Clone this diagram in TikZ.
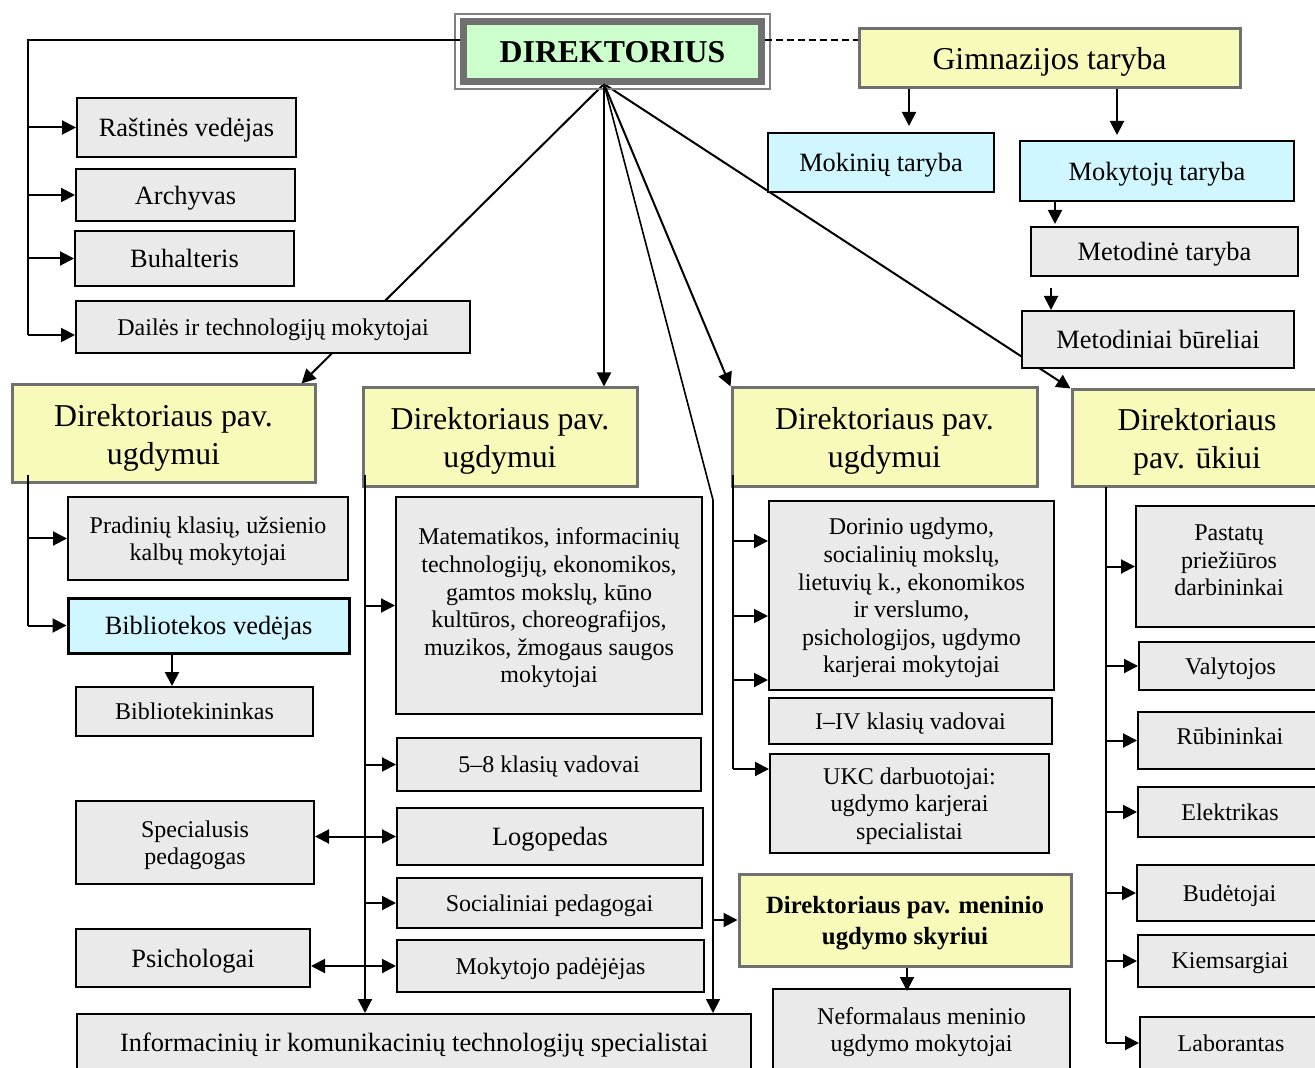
\documentclass[tikz,border=0pt]{standalone}
\usepackage{fontspec}
\setmainfont{Liberation Serif}
\usetikzlibrary{arrows.meta,calc}
\pgfdeclarelayer{bg}
\pgfsetlayers{bg,main}
\definecolor{gfill}{RGB}{234,234,234}
\definecolor{yfill}{RGB}{248,250,186}
\definecolor{cfill}{RGB}{208,246,255}
\definecolor{dgreen}{RGB}{204,255,204}
\definecolor{ybord}{RGB}{112,112,112}
\newcommand\fsS{\fontsize{12}{13.8}\selectfont}
\newcommand\fsM{\fontsize{13.2}{15.5}\selectfont}
\newcommand\fsL{\fontsize{15.9}{19}\selectfont}
\newcommand\fsB{\fontsize{12.4}{15.5}\selectfont\bfseries}
\newcommand\mkbox[7]{%
  \pgfmathsetmacro\bxw{(#4-#2)*0.5}%
  \pgfmathsetmacro\bxh{(#5-#3)*0.5}%
  \node[#6, minimum width=\bxw pt, minimum height=\bxh pt] (#1) at ({(#2+#4)/2},{(#3+#5)/2}) {#7};}
\begin{document}
\begin{tikzpicture}[x=0.5pt,y=-0.5pt,
  base/.style={rectangle, inner sep=0pt, align=center, text=black, text depth=0pt},
  gbox/.style={base, fill=gfill, draw=black, line width=1pt, font=\fsS},
  ybox/.style={base, fill=yfill, draw=ybord, line width=1.5pt, font=\fsL},
  cbox/.style={base, fill=cfill, draw=black, line width=1.2pt, font=\fsM},
  dbox/.style={base, fill=dgreen, draw=ybord, line width=3.5pt, font=\fsL\bfseries},
  ln/.style={draw=black, line width=1pt},
  ar/.style={ln, -{Triangle[length=7pt,width=7pt]}},
  arr/.style={ln, {Triangle[length=7pt,width=7pt]}-{Triangle[length=7pt,width=7pt]}}]
\useasboundingbox (0,0) rectangle (1315,1068);
\begin{pgfonlayer}{bg}
\fill[white] (0,0) rectangle (1315,1068);
\end{pgfonlayer}

% top
\draw[draw=gray, line width=0.8pt] (455,14) rectangle (770,89);
\mkbox{dir}{463.5}{21.5}{761.5}{81.5}{dbox}{DIREKTORIUS}
\mkbox{gim}{859}{29}{1240}{88}{ybox}{Gimnazijos taryba}
\mkbox{mok}{768}{133}{994}{192}{cbox}{Mokinių taryba}
\mkbox{mkt}{1020}{141}{1294}{201}{cbox}{Mokytojų taryba}
\mkbox{met}{1031}{227}{1298}{276}{gbox,font=\fsM}{Metodinė taryba}
\mkbox{mtb}{1022}{311}{1294}{368}{gbox,font=\fsM}{Metodiniai būreliai}

% left top column
\mkbox{ras}{77}{98}{296}{157}{gbox,font=\fsM}{Raštinės vedėjas}
\mkbox{arc}{76}{169}{295}{221}{gbox,font=\fsM}{Archyvas}
\mkbox{buh}{75}{231}{294}{286}{gbox,font=\fsM}{Buhalteris}
\mkbox{dai}{76}{301}{470}{353}{gbox}{Dailės ir technologijų mokytojai}

% deputies
\mkbox{y1}{12}{385}{315}{483}{ybox}{Direktoriaus pav.\\ugdymui}
\mkbox{y2}{363}{388}{637}{487}{ybox}{Direktoriaus pav.\\ugdymui}
\mkbox{y3}{732}{388}{1037}{487}{ybox}{Direktoriaus pav.\\ugdymui}
\mkbox{y4}{1072}{390}{1322}{487}{ybox}{Direktoriaus\\pav. ūkiui}

% group 1
\mkbox{pra}{68}{497}{348}{580}{gbox}{Pradinių klasių, užsienio\\kalbų mokytojai}
\mkbox{bib}{68}{598}{349}{653}{cbox,line width=1.5pt}{Bibliotekos vedėjas}
\mkbox{bbk}{76}{687}{313}{736}{gbox}{Bibliotekininkas}

% group 2
\mkbox{mat}{396}{497}{702}{714}{gbox}{Matematikos, informacinių\\technologijų, ekonomikos,\\gamtos mokslų, kūno\\kultūros, choreografijos,\\muzikos, žmogaus saugos\\mokytojai}
\mkbox{k58}{397}{738}{701}{791}{gbox}{5–8 klasių vadovai}
\mkbox{spe}{76}{801}{314}{884}{gbox}{Specialusis\\pedagogas}
\mkbox{log}{397}{808}{703}{865}{gbox,font=\fsM}{Logopedas}
\mkbox{soc}{397}{878}{702}{928}{gbox}{Socialiniai pedagogai}
\mkbox{psi}{76}{929}{310}{987}{gbox,font=\fsM}{Psichologai}
\mkbox{pad}{397}{940}{704}{992}{gbox}{Mokytojo padėjėjas}
\mkbox{ict}{77}{1014}{751}{1070}{gbox,font=\fsM}{Informacinių ir komunikacinių technologijų specialistai}

% group 3
\mkbox{dor}{769}{501}{1054}{690}{gbox}{Dorinio ugdymo,\\socialinių mokslų,\\lietuvių k., ekonomikos\\ir verslumo,\\psichologijos, ugdymo\\karjerai mokytojai}
\mkbox{k14}{769}{698}{1052}{744}{gbox}{I–IV klasių vadovai}
\mkbox{ukc}{770}{754}{1049}{853}{gbox,text depth=-3pt}{UKC darbuotojai:\\ugdymo karjerai\\specialistai}
\mkbox{men}{739}{874}{1071}{966}{ybox,font=\fsB}{Direktoriaus pav. meninio\\ugdymo skyriui}
\mkbox{nef}{773}{989}{1070}{1070}{gbox}{Neformalaus meninio\\ugdymo mokytojai}

% group 4
\mkbox{pas}{1136}{506}{1322}{627}{gbox,text depth=6pt}{Pastatų\\priežiūros\\darbininkai}
\mkbox{val}{1139}{642}{1322}{690}{gbox}{Valytojos}
\mkbox{rub}{1138}{712}{1322}{769}{gbox,text depth=4pt}{Rūbininkai}
\mkbox{ele}{1138}{787}{1322}{837}{gbox}{Elektrikas}
\mkbox{bud}{1137}{865}{1322}{921}{gbox}{Budėtojai}
\mkbox{kie}{1138}{935}{1322}{987}{gbox}{Kiemsargiai}
\mkbox{lab}{1140}{1017}{1322}{1070}{gbox}{Laborantas}

% connectors: top
\coordinate (lt) at (28,40);
\coordinate (lb) at (28,335);
\draw[ln] (dir.west |- lt) -- (lt) -- (lb);
\draw[ar] (lt |- ras.west) -- (ras.west);
\draw[ar] (lt |- arc.west) -- (arc.west);
\draw[ar] (lt |- buh.west) -- (buh.west);
\draw[ar] (lb) -- (dai.west |- lb);
\draw[ln, dash pattern=on 3.5pt off 2pt, line width=0.8pt] (dir.east |- lt) -- (gim.west |- lt);
\draw[ar] (gim.south -| 909,0) -- (909,126);
\draw[ar] (gim.south -| 1117,0) -- (1117,135);
\draw[ar] (mkt.south -| 1055,0) -- (1055,224);
\draw[ar] ($(met.south -| 1051,0)+(0,11)$) -- (mtb.north -| 1051,0);

% from director
\coordinate (ds) at (604,84);
\coordinate (cb) at (713,500);
\begin{pgfonlayer}{bg}
\draw[ar] (ds) -- ($(y1.north east)+(-15,0)$);
\draw[ar] (ds) -- (y4.north west);
\end{pgfonlayer}
\draw[ar] (ds) -- (ds |- y2.north);
\draw[ar] (ds) -- (y3.north west);
\draw[ar, line width=0.8pt] (ds) -- (cb) -- (cb |- ict.north);
\draw[ar] (cb |- men.west) -- (men.west);

% group 1
\coordinate (t1) at (28,475);
\draw[ln] (t1) -- (t1 |- bib.west);
\draw[ar] (t1 |- pra.west) -- (pra.west);
\draw[ar] (t1 |- bib.west) -- (bib.west);
\draw[ar] (bib.south -| 172,0) -- (bbk.north -| 172,0);

% group 2
\coordinate (t2) at (365,475);
\draw[ar] (t2) -- (t2 |- ict.north);
\draw[ar] (t2 |- mat.west) -- (mat.west);
\draw[ar] (t2 |- k58.west) -- (k58.west);
\draw[arr] (spe.east |- log.west) -- (log.west);
\draw[ar] (t2 |- soc.west) -- (soc.west);
\draw[arr] (psi.east |- pad.west) -- (pad.west);

% group 3
\coordinate (t3) at (733,475);
\coordinate (t3b) at (733,769);
\draw[ln] (t3) -- (t3b);
\draw[ar] (t3b) -- (ukc.west |- t3b);
\draw[ar] (t3 |- 0,541) -- (dor.west |- 0,541);
\draw[ar] (t3 |- 0,616) -- (dor.west |- 0,616);
\draw[ar] (t3 |- 0,680) -- (dor.west |- 0,680);
\draw[ar] (men.south -| 907,0) -- ($(nef.north -| 907,0)+(0,3)$);

% group 4
\coordinate (t4) at (1106,487);
\coordinate (t4b) at (1106,1043);
\draw[ln] (t4) -- (t4b);
\draw[ar] (t4 |- pas.west) -- (pas.west);
\draw[ar] (t4 |- val.west) -- (val.west);
\draw[ar] (t4 |- rub.west) -- (rub.west);
\draw[ar] (t4 |- ele.west) -- (ele.west);
\draw[ar] (t4 |- bud.west) -- (bud.west);
\draw[ar] (t4 |- kie.west) -- (kie.west);
\draw[ar] (t4b) -- (lab.west |- t4b);
\end{tikzpicture}
\end{document}
